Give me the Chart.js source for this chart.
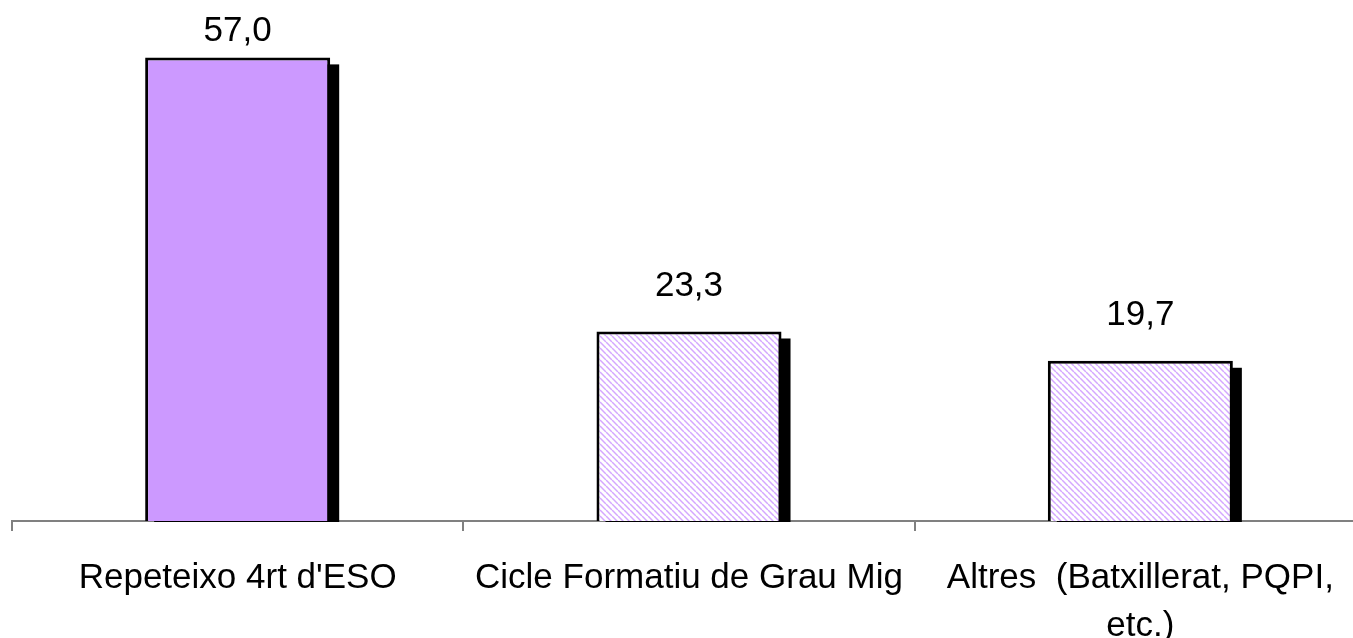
<!DOCTYPE html>
<html>
<head>
<meta charset="utf-8">
<script src="https://cdn.jsdelivr.net/npm/chart.js@4/dist/chart.umd.min.js"></script>
<style>
  html, body { margin: 0; padding: 0; background: #fff; overflow: hidden; }
  #wrap { width: 1366px; height: 638px; }
</style>
</head>
<body>
<div id="wrap"><canvas id="chart"></canvas></div>
<script>
var categories = [
  "Repeteixo 4rt d'ESO",
  'Cicle Formatiu de Grau Mig',
  ['Altres  (Batxillerat, PQPI,', 'etc.)']
];
var values = [57.0, 23.3, 19.7];
var yMax = 60;

var FONT = '"Liberation Sans", Arial, sans-serif';

function makeHatch() {
  var c = document.createElement('canvas');
  c.width = 6; c.height = 6;
  var g = c.getContext('2d');
  g.fillStyle = '#ffffff';
  g.fillRect(0, 0, 6, 6);
  g.strokeStyle = '#d4a8ff';
  g.lineWidth = 1.5;
  for (var k = -6; k <= 6; k += 6) {
    g.beginPath();
    g.moveTo(k, 0);
    g.lineTo(k + 6, 6);
    g.stroke();
  }
  return g.createPattern(c, 'repeat');
}

var hatch = makeHatch();

// black drop shadow behind each bar
var shadowPlugin = {
  id: 'shadow',
  beforeDatasetsDraw: function(chart) {
    var ctx = chart.ctx;
    var bottom = chart.scales.y.getPixelForValue(0);
    ctx.save();
    ctx.fillStyle = '#000';
    chart.getDatasetMeta(0).data.forEach(function(bar) {
      var half = bar.width / 2;
      ctx.fillRect(bar.x - half + 9, bar.y + 7, bar.width, bottom - bar.y - 6);
    });
    ctx.restore();
  }
};

// value labels above bars
var labelPlugin = {
  id: 'valueLabels',
  afterDatasetsDraw: function(chart) {
    var ctx = chart.ctx;
    ctx.save();
    ctx.font = '35px ' + FONT;
    ctx.fillStyle = '#000';
    ctx.textAlign = 'center';
    ctx.textBaseline = 'middle';
    chart.getDatasetMeta(0).data.forEach(function(bar, i) {
      var y = Math.max(bar.y - 45, 31);
      ctx.fillText(values[i].toFixed(1).replace('.', ','), bar.x, y);
    });
    ctx.restore();
  }
};

new Chart(document.getElementById('chart'), {
  type: 'bar',
  data: {
    labels: categories,
    datasets: [{
      data: values,
      backgroundColor: ['#cc99ff', hatch, hatch],
      borderColor: '#000',
      borderWidth: 3,
      barPercentage: 0.41,
      categoryPercentage: 1
    }]
  },
  options: {
    responsive: true,
    maintainAspectRatio: false,
    animation: false,
    events: [],
    layout: { padding: { left: 12, right: 0, top: 33, bottom: 0 } },
    plugins: { legend: { display: false }, tooltip: { enabled: false } },
    scales: {
      x: {
        offset: true,
        afterFit: function(scale) { scale.height = 117; },
        grid: {
          offset: true,
          drawOnChartArea: false,
          drawTicks: true,
          tickLength: 10,
          color: '#808080',
          lineWidth: 2
        },
        border: { color: '#808080', width: 2 },
        ticks: {
          color: '#000',
          padding: 24,
          maxRotation: 0,
          autoSkip: false,
          font: { family: FONT, size: 35, lineHeight: 1.35 }
        }
      },
      y: {
        display: false,
        min: 0,
        max: yMax
      }
    }
  },
  plugins: [shadowPlugin, labelPlugin]
});
</script>
</body>
</html>
